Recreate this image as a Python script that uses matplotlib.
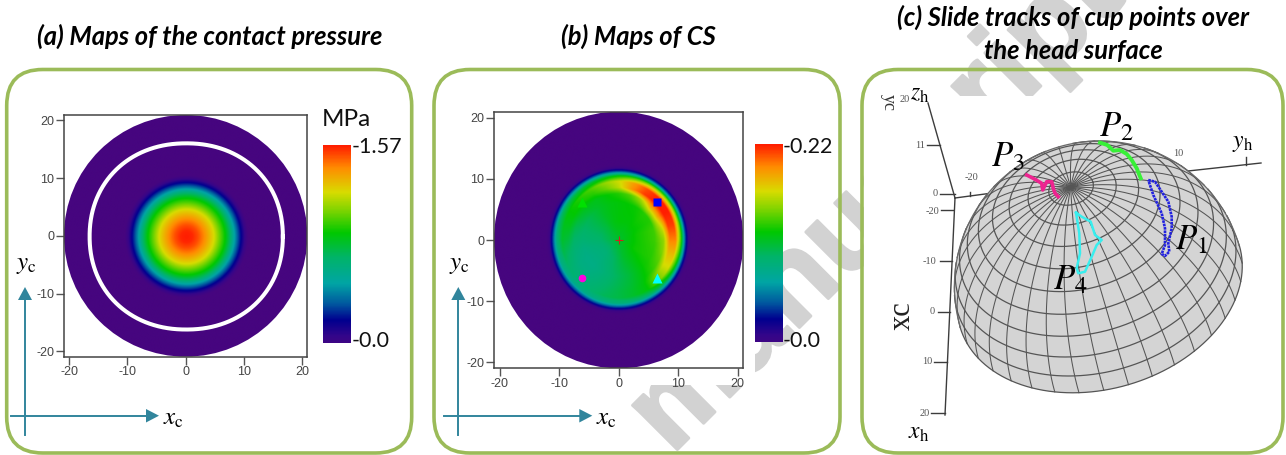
import numpy as np
import matplotlib
matplotlib.use('Agg')
import matplotlib.pyplot as plt
import matplotlib.patheffects as pe
from matplotlib.colors import LinearSegmentedColormap
from matplotlib.patches import FancyBboxPatch, Circle, Polygon, Rectangle

plt.rcParams['font.family'] = ['Lato', 'DejaVu Sans']
plt.rcParams['mathtext.fontset'] = 'stix'
plt.rcParams['axes.unicode_minus'] = False

W, H = 1286, 455

# colour scale
scale_pos = [0.0, 0.06, 0.14, 0.22, 0.32, 0.45, 0.57, 0.68, 0.77, 0.89, 1.0]
scale_col = ['#46057f', '#34068a', '#00008f', '#00589f', '#00a5a5', '#00b468',
             '#00c800', '#7ed400', '#d8dc00', '#ff8c00', '#ff1e00']

# panel a, pressure against radius
a_radius = [0, 1, 2, 3, 4, 4.7, 5.5, 6.7, 7.5, 8.1, 8.8, 9.5, 10.1, 10.6]
a_level = [1, .99, .95, .89, .82, .77, .68, .56, .45, .34, .22, .12, .04, 0]

# panel b, CS read around the disc every 15 degrees
b_radius = [3, 6, 7.5, 8.5, 9.5, 10.4, 11.1, 11.7]
b_center = 0.52
b_rows = [
    [.58, .62, .70, .90, .90, .62, .22, .03],
    [.58, .62, .76, .97, .97, .64, .22, .03],
    [.57, .60, .85, 1.0, 1.0, .66, .22, .03],
    [.57, .60, .84, 1.0, 1.0, .66, .22, .03],
    [.56, .58, .72, .97, .95, .64, .22, .03],
    [.56, .57, .64, .88, .86, .60, .22, .03],
    [.56, .56, .60, .74, .76, .56, .22, .03],
    [.55, .55, .57, .66, .70, .52, .22, .03],
    [.53, .53, .54, .60, .64, .50, .21, .03],
    [.50, .50, .54, .58, .60, .48, .21, .03],
    [.48, .47, .52, .57, .57, .46, .20, .03],
    [.46, .45, .48, .54, .54, .44, .20, .03],
    [.45, .43, .45, .50, .52, .42, .20, .03],
    [.43, .40, .42, .45, .48, .40, .19, .03],
    [.42, .39, .40, .42, .44, .39, .19, .03],
    [.42, .39, .40, .41, .42, .38, .19, .03],
    [.44, .41, .42, .43, .44, .39, .19, .03],
    [.46, .44, .45, .46, .47, .40, .19, .03],
    [.49, .47, .48, .49, .49, .41, .19, .03],
    [.52, .50, .51, .52, .52, .42, .19, .03],
    [.54, .54, .55, .56, .56, .44, .19, .03],
    [.56, .58, .60, .66, .66, .48, .20, .03],
    [.58, .60, .64, .76, .76, .54, .20, .03],
    [.58, .61, .68, .82, .82, .58, .21, .03],
]

# the four cup points in panel b
point_x = [6.4, -6.1, -6.1, 6.4]
point_y = [6.2, 6.2, -6.2, -6.2]
point_mark = ['s', '^', 'o', '^']
point_size = [5.5, 6.5, 5.5, 6.5]
point_col = ['#0000ff', '#00e000', '#ff00e0', '#00ffff']

ticks = [-20, -10, 0, 10, 20]

# slide tracks in panel c
p1_x = [1148.3, 1155, 1161.7, 1168.3, 1171.7, 1171.7, 1168.3, 1169.3, 1165, 1161.7, 1165, 1165, 1161.7, 1153.3, 1148.3]
p1_y = [180, 181.7, 191.7, 201.7, 216.7, 228.3, 243.3, 251.7, 256, 254, 245, 228.3, 213.3, 195, 180]
p2_x = [1100, 1107.3, 1113.3, 1120, 1126.7, 1131.7, 1136.7, 1140.7]
p2_y = [142.7, 145, 150.7, 150, 154, 160, 168.3, 178.3]
p3_x = [1026.7, 1035, 1041.7, 1042.7, 1046.7, 1051.7, 1053.3, 1055, 1058.3]
p3_y = [175, 179.3, 183.3, 190, 181.7, 181.7, 188.3, 193.3, 196.7]
p4_x = [1076, 1081.7, 1090.7, 1095, 1101.7, 1096.7, 1091.7, 1085, 1078.3, 1076.7, 1080, 1079.3, 1076]
p4_y = [212.7, 216.7, 221.7, 235, 240, 245, 256.7, 271.7, 273.3, 268.3, 253.3, 233.3, 212.7]

cmap = LinearSegmentedColormap.from_list('cs', list(zip(scale_pos, scale_col)))

fig = plt.figure(figsize=(W / 100, H / 100), dpi=100)
bg = fig.add_axes([0, 0, 1, 1])
bg.set_xlim(0, W)
bg.set_ylim(H, 0)
bg.axis('off')


def px_axes(x0, y0, x1, y1):
    return fig.add_axes([x0 / W, 1 - y1 / H, (x1 - x0) / W, (y1 - y0) / H], zorder=3)


def heat(box, field, lim):
    ax = px_axes(*box)
    im = ax.imshow(field, extent=[-26, 26, -26, 26], origin='lower', cmap=cmap, vmin=0, vmax=1,
                   interpolation='bilinear', aspect='auto')
    im.set_clip_path(Circle((0, 0), lim, transform=ax.transData))
    ax.set_xlim(-lim, lim)
    ax.set_ylim(-lim, lim)
    ax.set_xticks(ticks)
    ax.set_yticks(ticks)
    ax.tick_params(length=6, width=1, color='#555555', labelcolor='#444444', labelsize=9, pad=1)
    for lab in ax.get_xticklabels() + ax.get_yticklabels():
        lab.set_family('Liberation Sans')
    for s in ax.spines.values():
        s.set_color('#444444')
        s.set_linewidth(1.1)
    return ax


def colour_bar(box):
    ax = px_axes(*box)
    ax.imshow(np.linspace(1, 0.03, 300)[:, None], cmap=cmap, vmin=0, vmax=1, aspect='auto')
    ax.axis('off')


# watermark, lying under the pasted pictures
mark = bg.text(1127, 0, 'manuscript', rotation=45, rotation_mode='anchor', ha='right', va='baseline',
               fontsize=86, fontweight='bold', family='Liberation Sans', color='#d2d2d2', zorder=1)
mark.set_path_effects([pe.withStroke(linewidth=2, foreground='#d2d2d2')])
bg.add_patch(Rectangle((470, 100), 285, 285, fc='white', ec='none', zorder=2))
bg.add_patch(Rectangle((864, 96), 420, 345, fc='white', ec='none', zorder=2))

# frames
for x0, x1 in [(6.7, 411.7), (434, 840), (862, 1283)]:
    bg.add_patch(FancyBboxPatch((x0, 69.5), x1 - x0, 383.5, boxstyle='round,pad=0,rounding_size=36',
                                fc='none', ec='#9bbb59', lw=2.6, zorder=3))

# titles
title_kw = dict(ha='center', va='center', fontsize=18.4, fontweight='bold', style='italic', color='black', zorder=4)
bg.text(210, 36, '(a) Maps of the contact pressure', **title_kw)
bg.text(638, 36, '(b) Maps of CS', **title_kw)
bg.text(1073, 17, '(c) Slide tracks of cup points over', **title_kw)
bg.text(1073, 51, 'the head surface', **title_kw)

# heat maps
gx, gy = np.meshgrid(np.linspace(-26, 26, 700), np.linspace(-26, 26, 700))
rr = np.hypot(gx, gy)
field_a = np.interp(np.hypot(gx - 0.1, gy + 0.1), a_radius, a_level)

fine_r = np.linspace(0, 40, 1601)
fine = np.array([np.interp(fine_r, [0] + b_radius + [12.2], [b_center] + row + [0]) for row in b_rows])
tt = (np.degrees(np.arctan2(gy, gx)) % 360) / 15
i0 = np.floor(tt).astype(int) % 24
frac = tt - np.floor(tt)
ir = np.round(rr / 40 * 1600).astype(int)
field_b = (1 - frac) * fine[i0, ir] + frac * fine[(i0 + 1) % 24, ir]

ax_a = heat((64, 115, 307.3, 356.7), field_a, 20.9)
t = np.linspace(0, 2 * np.pi, 400)
ax_a.plot(0.1 + 16.6 * np.sign(np.cos(t)) * np.abs(np.cos(t)) ** (2 / 2.12),
          -0.1 + 16.1 * np.sign(np.sin(t)) * np.abs(np.sin(t)) ** (2 / 2.12), color='white', lw=2.9)

ax_b = heat((494, 111.7, 743.3, 368.3), field_b, 20.95)
for px, py, m, s, c in zip(point_x, point_y, point_mark, point_size, point_col):
    ax_b.plot(px, py, m, color=c, ms=s, mec='none')
ax_b.plot(0, 0, '+', color='#d02020', ms=6, mew=0.8)

colour_bar((323, 145.3, 351, 342.7))
colour_bar((755, 144.3, 782.7, 342))
bar_kw = dict(fontsize=15.5, va='center', ha='left', color='#111111', zorder=4)
bg.text(322, 119, 'MPa', fontsize=17.5, va='center', ha='left', color='#111111', zorder=4)
bg.text(352, 147, '-1.57', **bar_kw)
bg.text(352, 341, '-0.0', **bar_kw)
bg.text(783, 147, '-0.22', **bar_kw)
bg.text(783, 341, '-0.0', **bar_kw)

# coordinate arrows
teal = '#31859c'
for ox, xend in [(25, 159), (458.3, 592.3)]:
    bg.plot([ox, ox], [435, 300], color=teal, lw=1.4, zorder=4)
    bg.plot([ox - 14, xend - 12], [415.7, 415.7], color=teal, lw=1.4, zorder=4)
    bg.add_patch(Polygon([[ox - 7, 300], [ox + 7, 300], [ox, 287]], fc=teal, ec='none', zorder=4))
    bg.add_patch(Polygon([[xend - 13, 409], [xend - 13, 422.5], [xend, 415.7]], fc=teal, ec='none', zorder=4))
    bg.text(xend + 14, 418, r'$x_{\mathrm{c}}$', fontsize=18, ha='center', va='center', zorder=4)
    bg.text(ox + 1, 265, r'$y_{\mathrm{c}}$', fontsize=18, ha='center', va='center', zorder=4)

# panel c: axes behind the dome
axis_col = '#3c3c3c'
serif = 'Liberation Serif'
for seg in [((928, 955), (103, 198)), ((955, 945), (198, 415)), ((955, 1000), (198, 192)),
            ((1188, 1261), (171, 163)), ((927, 940), (145, 145)), ((940, 955), (193.5, 193.5)),
            ((941, 953), (210, 210)), ((940, 952), (261, 261)), ((938, 950), (312, 312)),
            ((934, 947), (362, 362)), ((931, 945), (413, 413)), ((970, 970), (192, 196)),
            ((1246, 1246), (157, 165))]:
    bg.plot(seg[0], seg[1], color=axis_col, lw=1, zorder=4)
small = dict(fontsize=7.5, family=serif, color='#555555', ha='center', va='center', zorder=4)
for lx, ly, s in [(971, 177, '-20'), (935, 194, '0'), (932, 211, '-20'), (929, 261, '-10'), (932, 312, '0'),
                  (927, 362, '10'), (925, 413, '20'), (920, 146, '11'), (1178, 154, '10'), (905, 99, '20')]:
    bg.text(lx, ly, s, **small)
bg.text(888, 102, 'yc', fontsize=13, family=serif, color='#333333', rotation=-90, ha='center', va='center', zorder=4)
bg.text(902, 316, 'xc', fontsize=22, family=serif, color='#222222', rotation=90, ha='center', va='center', zorder=4)

# dome, an orthographic hemisphere
R = 145.3
cx, cy = 1099.7, 286.3
pole = np.array([-87 / 436, -297 / 436, 0.0])
pole[2] = np.sqrt(1 - pole[0] ** 2 - pole[1] ** 2)
e1 = np.array([0.961, -0.281, 0.0])
e2 = np.cross(pole, e1)


def dome(theta, phi):
    th, ph = np.radians(theta), np.radians(phi)
    pts = np.outer(np.sin(th) * np.cos(ph), e1) + np.outer(np.sin(th) * np.sin(ph), e2) + np.outer(np.cos(th), pole)
    x, y, z = cx + R * pts[:, 0], cy + R * pts[:, 1], pts[:, 2]
    x[z < 0] = np.nan
    y[z < 0] = np.nan
    return x, y


n_dir = pole[:2] / np.hypot(pole[0], pole[1])
m_dir = np.array([-n_dir[1], n_dir[0]])
al = np.radians(np.linspace(-90, 90, 181))
edge_x = cx + R * (np.cos(al) * n_dir[0] + np.sin(al) * m_dir[0])
edge_y = cy + R * (np.cos(al) * n_dir[1] + np.sin(al) * m_dir[1])
bg.fill(edge_x, edge_y, color='#d4d4d4', lw=0, zorder=4)
ph = np.linspace(0, 360, 721)
rim = np.outer(np.cos(np.radians(ph)), e1) + np.outer(np.sin(np.radians(ph)), e2)
bg.fill(cx + R * rim[:, 0], cy + R * rim[:, 1], color='#d4d4d4', lw=0, zorder=4)
grid_col = '#555555'
for k in range(1, 11):
    x, y = dome(np.full(721, 9.0 * k), ph)
    bg.plot(x, y, color=grid_col, lw=0.9, zorder=4.1)
th = np.linspace(0, 90, 181)
for p in range(0, 360, 10):
    x, y = dome(th, np.full(181, float(p)))
    bg.plot(x, y, color=grid_col, lw=0.75, zorder=4.1)
bg.plot(edge_x, edge_y, color='#6a6a6a', lw=0.9, zorder=4.1)

bg.plot(p1_x, p1_y, color='#2222e0', lw=1.9, ls=(0, (1.0, 0.3)), zorder=5)
bg.plot(p2_x, p2_y, color='#38f038', lw=2.8, zorder=5)
bg.plot(p3_x, p3_y, color='#ee2490', lw=2.6, zorder=5)
bg.plot(p4_x, p4_y, color='#38eeee', lw=1.8, zorder=5)

math_kw = dict(ha='center', va='center', color='black', zorder=6)
bg.text(1191.7, 240, r'$P_1$', fontsize=25, **math_kw)
bg.text(1116, 127, r'$P_2$', fontsize=25, **math_kw)
bg.text(1008, 157, r'$P_3$', fontsize=25, **math_kw)
bg.text(1070, 280, r'$P_4$', fontsize=25, **math_kw)
bg.text(920, 95, r'$z_{\mathrm{h}}$', fontsize=17, **math_kw)
bg.text(1243, 143, r'$y_{\mathrm{h}}$', fontsize=17, **math_kw)
bg.text(919, 433, r'$x_{\mathrm{h}}$', fontsize=17, **math_kw)

fig.savefig('out.png', dpi=100)
